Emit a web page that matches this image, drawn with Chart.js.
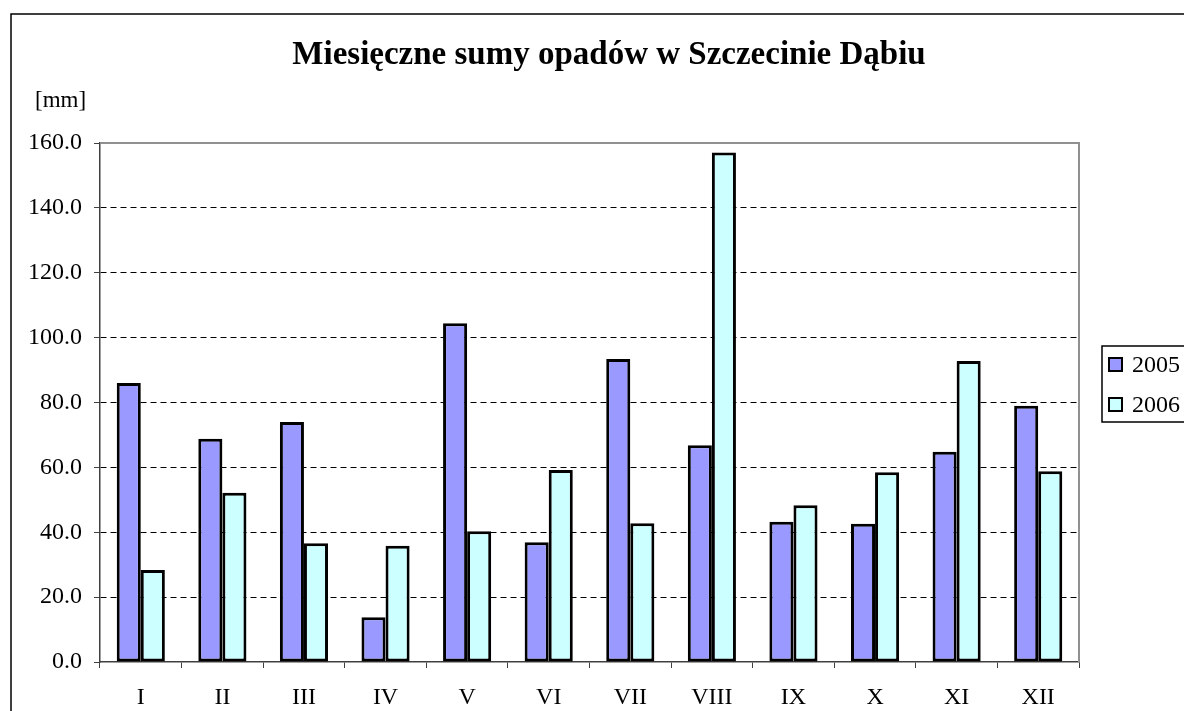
<!DOCTYPE html>
<html>
<head>
<meta charset="utf-8">
<script src="https://cdn.jsdelivr.net/npm/chart.js@4/dist/chart.umd.min.js"></script>
<style>
html,body{margin:0;padding:0;background:#fff;overflow:hidden;}
#wrap{position:relative;width:1184px;height:711px;}
</style>
</head>
<body>
<div id="wrap"><canvas id="c" width="1184" height="711"></canvas></div>
<script>
const titleText = 'Miesięczne sumy opadów w Szczecinie Dąbiu';
const unitLabel = '[mm]';
const categories = ['I','II','III','IV','V','VI','VII','VIII','IX','X','XI','XII'];
const seriesNames = ['2005','2006'];
const values2005 = [86.0, 68.8, 74.0, 13.8, 104.4, 36.9, 93.4, 66.8, 43.2, 42.6, 64.8, 79.0];
const values2006 = [28.4, 52.2, 36.6, 35.8, 40.3, 59.2, 42.8, 157.1, 48.3, 58.5, 92.8, 58.8];
const yMin = 0, yMax = 160, yStep = 20;

const FONT = "'Liberation Serif', 'Times New Roman', serif";

const decorPlugin = {
  id: 'decor',
  afterDraw(chart) {
    const ctx = chart.ctx;
    const a = chart.chartArea;
    ctx.save();
    // plot area top/right border
    ctx.strokeStyle = '#909090';
    ctx.lineWidth = 2;
    ctx.beginPath();
    ctx.moveTo(a.left, a.top);
    ctx.lineTo(a.right, a.top);
    ctx.lineTo(a.right, a.bottom);
    ctx.stroke();
    // outer chart border
    ctx.strokeStyle = '#000';
    ctx.lineWidth = 1.5;
    ctx.beginPath();
    ctx.moveTo(11, 711);
    ctx.lineTo(11, 14);
    ctx.lineTo(1190, 14);
    ctx.stroke();
    // title
    ctx.fillStyle = '#000';
    ctx.font = "bold 33px " + FONT;
    ctx.textAlign = 'center';
    ctx.textBaseline = 'middle';
    ctx.fillText(titleText, 609, 55);
    // unit label
    ctx.font = "23px " + FONT;
    ctx.textAlign = 'left';
    ctx.fillText(unitLabel, 35, 101);
    // legend
    ctx.strokeStyle = '#000';
    ctx.lineWidth = 1.5;
    ctx.beginPath();
    ctx.moveTo(1190, 346);
    ctx.lineTo(1102, 346);
    ctx.lineTo(1102, 422);
    ctx.lineTo(1190, 422);
    ctx.stroke();
    chart.data.datasets.forEach((ds, i) => {
      const cy = 364.5 + i * 40;
      ctx.fillStyle = ds.backgroundColor;
      ctx.fillRect(1109, cy - 6.5, 13, 13);
      ctx.lineWidth = 2;
      ctx.strokeStyle = '#000';
      ctx.strokeRect(1109, cy - 6.5, 13, 13);
      ctx.fillStyle = '#000';
      ctx.font = "24px " + FONT;
      ctx.textAlign = 'left';
      ctx.textBaseline = 'middle';
      ctx.fillText(ds.label, 1132, cy + 1);
    });
    ctx.restore();
  }
};

new Chart(document.getElementById('c'), {
  type: 'bar',
  data: {
    labels: categories,
    datasets: [
      { label: seriesNames[0], data: values2005, backgroundColor: '#9999FF', borderColor: '#000', borderWidth: 3, borderSkipped: false },
      { label: seriesNames[1], data: values2006, backgroundColor: '#CCFFFF', borderColor: '#000', borderWidth: 3, borderSkipped: false }
    ]
  },
  options: {
    responsive: false,
    animation: false,
    devicePixelRatio: 1,
    layout: { padding: { left: 20, right: 105, top: 143, bottom: 0 } },
    datasets: { bar: { barPercentage: 1.0, categoryPercentage: 0.59 } },
    plugins: {
      legend: { display: false },
      title: { display: false },
      tooltip: { enabled: false }
    },
    scales: {
      x: {
        offset: true,
        afterFit(s) { s.height = 49; },
        grid: { display: true, drawOnChartArea: false, tickLength: 6, color: '#404040', offset: true },
        border: { display: true, color: '#404040', width: 1.5 },
        ticks: { color: '#000', font: { family: FONT, size: 24 }, padding: 15, maxRotation: 0 }
      },
      y: {
        min: yMin, max: yMax,
        afterFit(s) { s.width = 80; },
        ticks: {
          stepSize: yStep,
          color: '#000',
          font: { family: FONT, size: 24 },
          padding: 12,
          callback: (v) => Number(v).toFixed(1)
        },
        grid: {
          tickLength: 6,
          lineWidth: 1,
          color: (c) => (c.tick && (c.tick.value === yMin || c.tick.value === yMax)) ? 'rgba(0,0,0,0)' : '#000',
          tickColor: '#404040'
        },
        border: { display: true, color: '#404040', width: 1.5, dash: [6, 4] }
      }
    }
  },
  plugins: [decorPlugin]
});
</script>
</body>
</html>
